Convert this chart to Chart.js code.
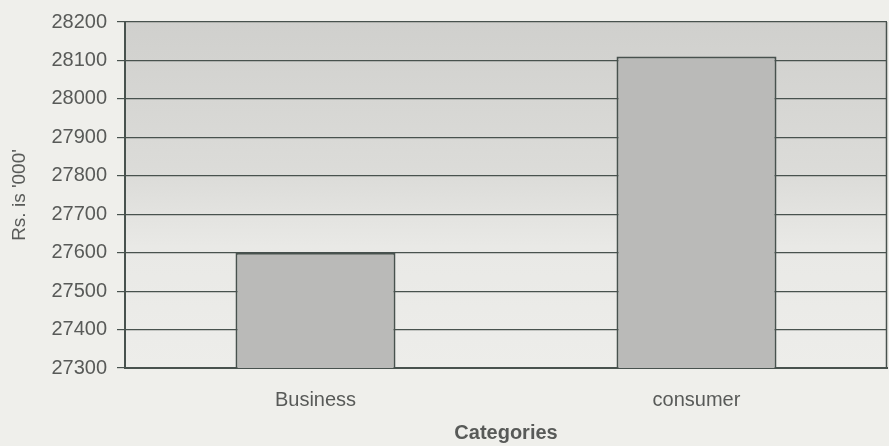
<!DOCTYPE html>
<html>
<head>
<meta charset="utf-8">
<script src="https://cdn.jsdelivr.net/npm/chart.js@4.4.1/dist/chart.umd.min.js"></script>
<style>
  html, body { margin: 0; padding: 0; background: #efefeb; }
  #wrap { width: 889px; height: 446px; }
</style>
</head>
<body>
<div id="wrap"><canvas id="salesChart"></canvas></div>
<script>
// categories and values (Rs. '000)
var categories = ['Business', 'consumer'];
var amounts = [27600, 28110];
var yTicks = [27300, 27400, 27500, 27600, 27700, 27800, 27900, 28000, 28100, 28200];

var inkColor = 'rgb(72, 82, 78)';
var textColor = 'rgb(88, 90, 88)';

// shaded plot area, darker at the top, plus the right-hand frame line
var plotShade = {
    id: 'plotShade',
    beforeDraw: function(chart) {
        var a = chart.chartArea;
        var ctx = chart.ctx;
        var g = ctx.createLinearGradient(0, a.top, 0, a.bottom);
        g.addColorStop(0, 'rgb(208, 208, 205)');
        g.addColorStop(0.45, 'rgb(220, 220, 217)');
        g.addColorStop(0.65, 'rgb(233, 233, 230)');
        g.addColorStop(1, 'rgb(237, 237, 234)');
        ctx.save();
        ctx.fillStyle = g;
        ctx.fillRect(a.left, a.top, a.right - a.left, a.bottom - a.top);
        ctx.restore();
    },
    beforeDatasetsDraw: function(chart) {
        var a = chart.chartArea;
        var ctx = chart.ctx;
        ctx.save();
        ctx.strokeStyle = inkColor;
        ctx.lineWidth = 1.5;
        ctx.beginPath();
        ctx.moveTo(a.right - 0.5, a.top);
        ctx.lineTo(a.right - 0.5, a.bottom);
        ctx.stroke();
        ctx.restore();
    }
};

var config = {
    type: 'bar',
    data: {
        labels: categories,
        datasets: [{
            data: amounts,
            backgroundColor: 'rgb(186, 186, 184)',
            borderColor: inkColor,
            borderWidth: 2,
            barPercentage: 0.42,
            categoryPercentage: 1
        }]
    },
    options: {
        responsive: true,
        maintainAspectRatio: false,
        animation: false,
        layout: { padding: { top: 16, right: 2, left: 0, bottom: 0 } },
        plugins: {
            legend: { display: false },
            tooltip: { enabled: false }
        },
        scales: {
            x: {
                grid: { display: false, drawTicks: false },
                border: { display: true, color: inkColor, width: 2 },
                ticks: {
                    color: textColor,
                    padding: 20,
                    font: { family: 'Liberation Sans', size: 20 }
                },
                title: {
                    display: true,
                    text: 'Categories',
                    color: textColor,
                    padding: { top: 0, bottom: 1 },
                    font: { family: 'Liberation Sans', size: 20, weight: 'bold' }
                },
                afterFit: function(scale) { scale.height = 78; }
            },
            y: {
                min: 27300,
                max: 28200,
                afterBuildTicks: function(scale) {
                    scale.ticks = yTicks.map(function(v) { return { value: v }; });
                },
                grid: { color: inkColor, lineWidth: 1.2, tickLength: 8, tickColor: inkColor },
                border: { display: true, color: inkColor, width: 2 },
                ticks: {
                    color: textColor,
                    padding: 10,
                    font: { family: 'Liberation Sans', size: 20 },
                    callback: function(value) { return String(value); }
                },
                title: {
                    display: true,
                    text: "Rs. is '000'",
                    color: textColor,
                    padding: { top: 8, bottom: 0 },
                    font: { family: 'Liberation Sans', size: 19 }
                },
                afterFit: function(scale) { scale.width = 125; }
            }
        }
    },
    plugins: [plotShade]
};

window.chart = new Chart(document.getElementById('salesChart').getContext('2d'), config);
</script>
</body>
</html>
